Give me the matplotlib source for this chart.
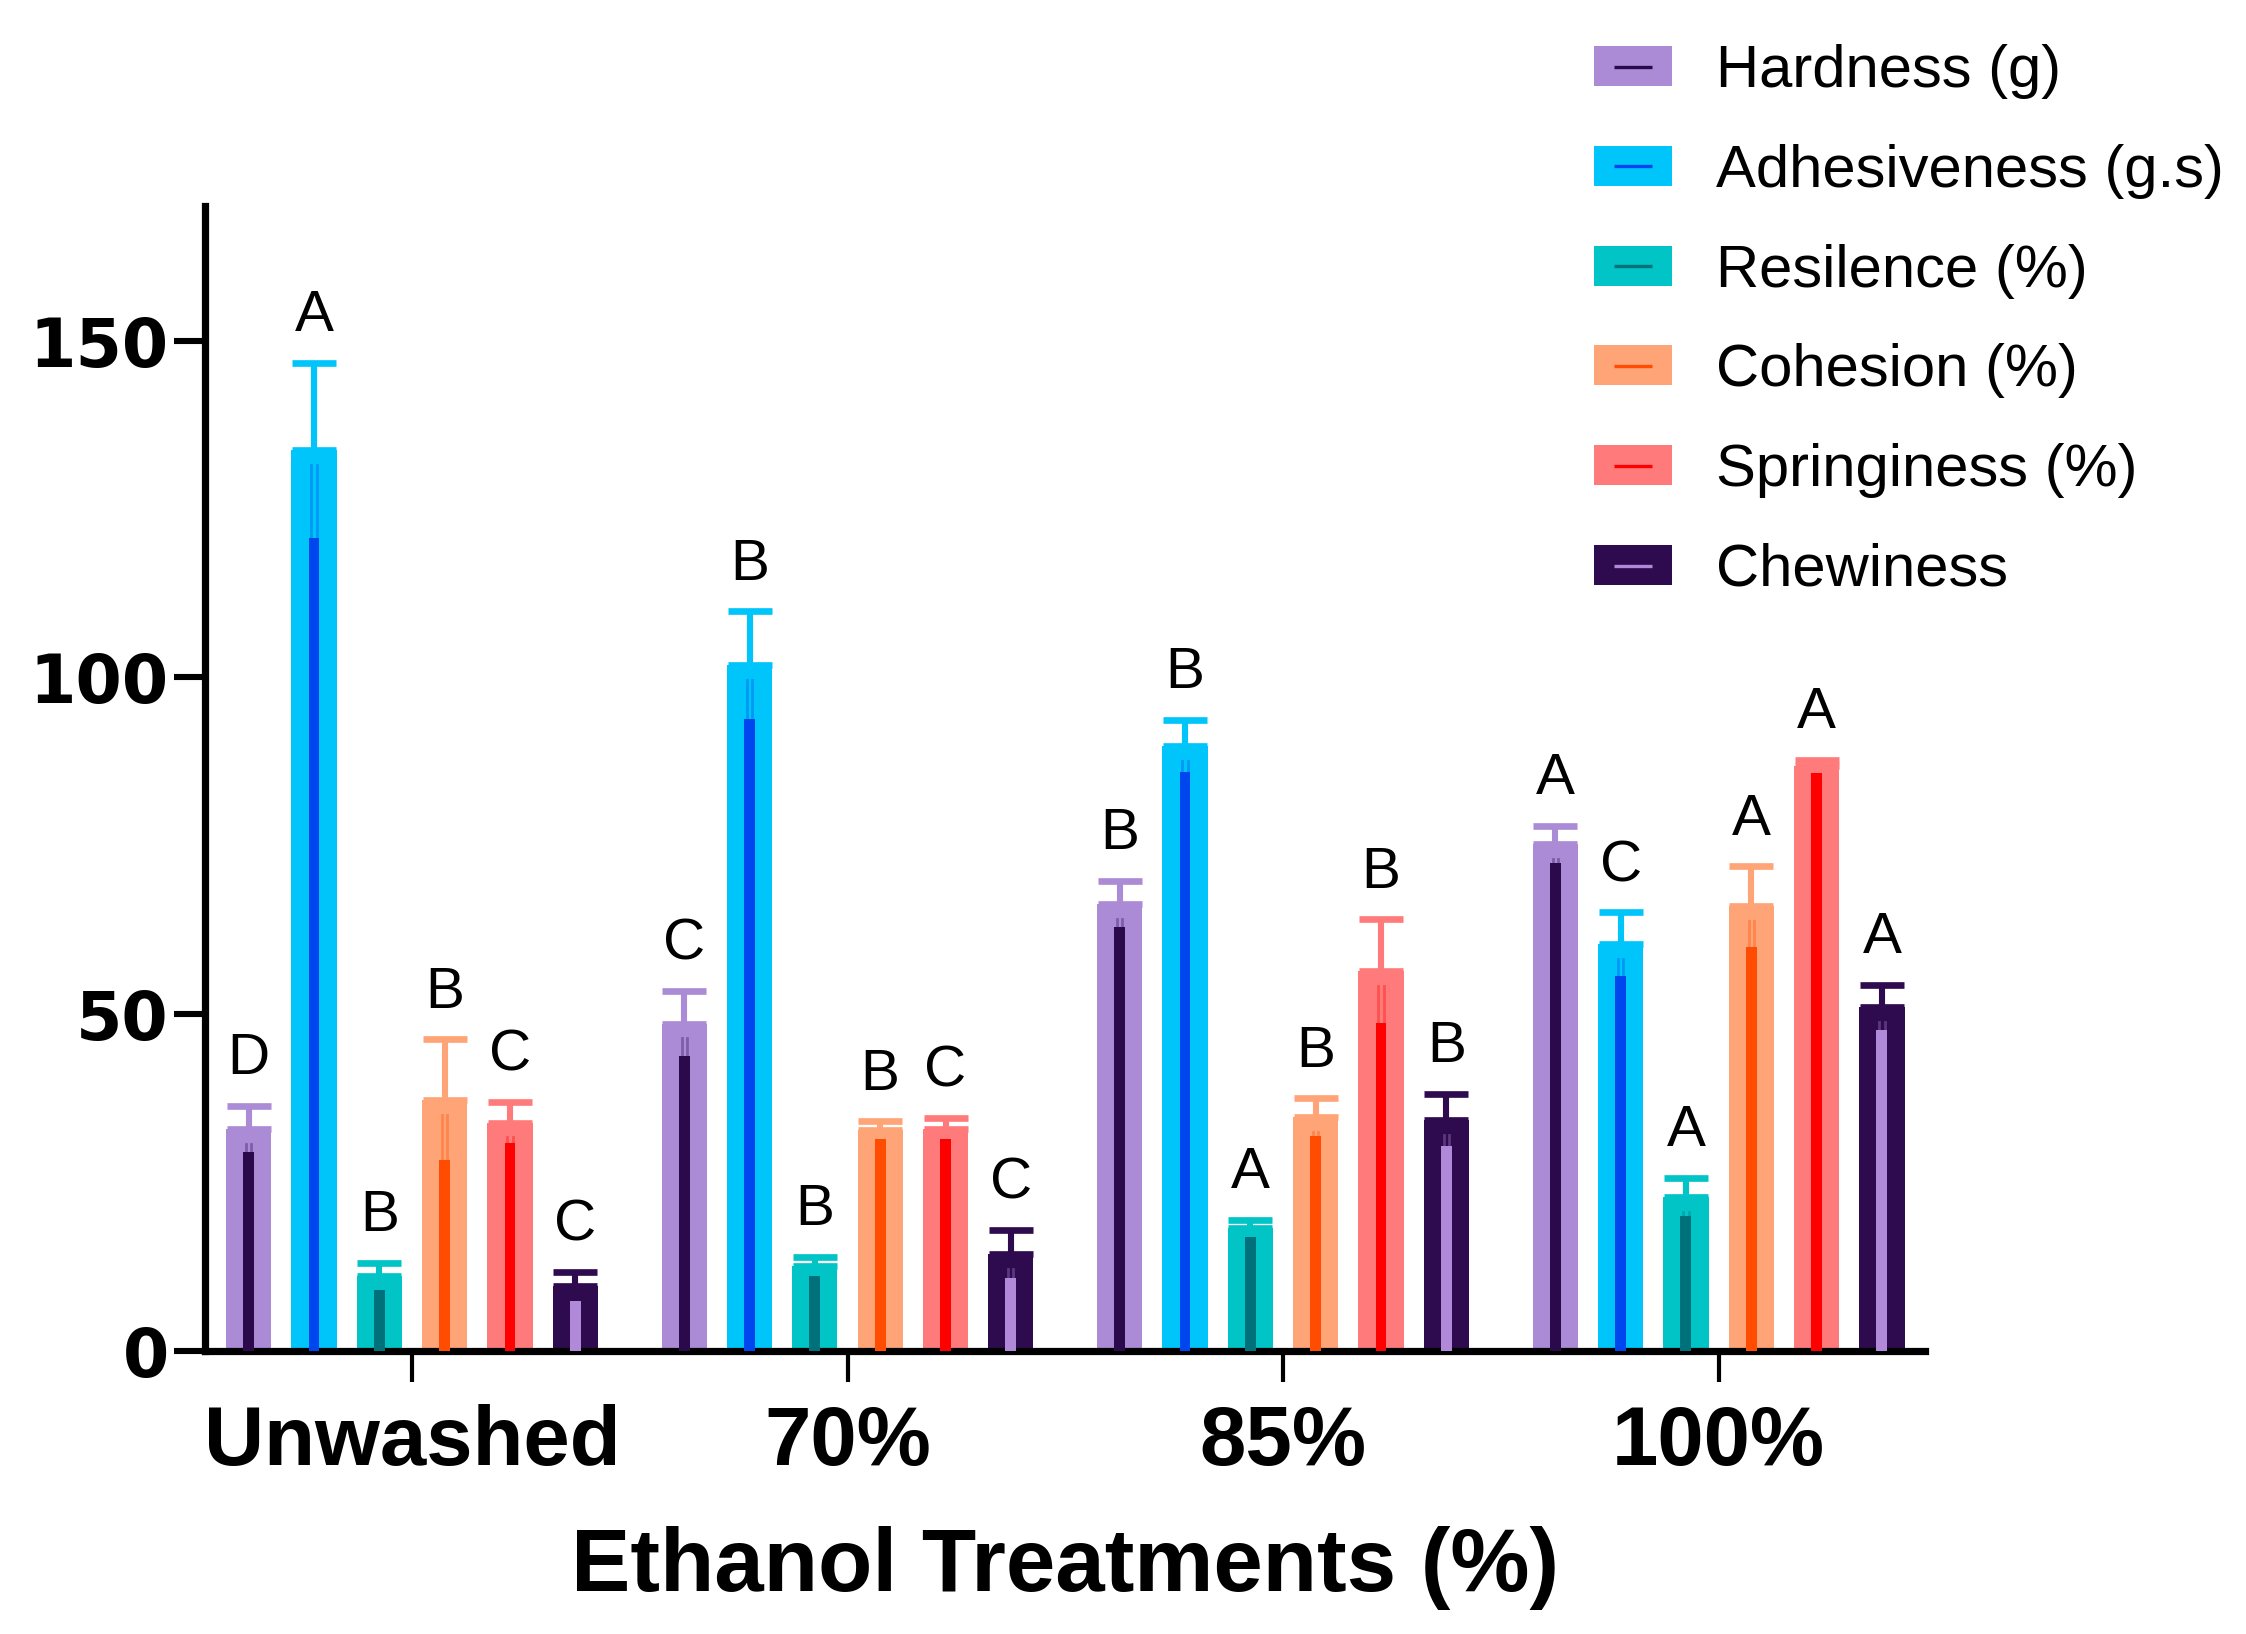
import matplotlib
matplotlib.use("Agg")
import matplotlib.pyplot as plt
import numpy as np
from matplotlib.patches import Patch
from matplotlib.lines import Line2D

plt.rcParams["font.family"] = ["Liberation Sans", "DejaVu Sans"]

groups = ["Unwashed", "70%", "85%", "100%"]
series = ["Hardness (g)", "Adhesiveness (g.s)", "Resilence (%)",
          "Cohesion (%)", "Springiness (%)", "Chewiness"]

hardness = [33.0, 48.6, 66.4, 75.2]
adhesiveness = [133.7, 101.8, 89.8, 60.4]
resilience = [11.1, 12.6, 18.2, 22.9]
cohesion = [37.3, 32.8, 34.7, 66.0]
springiness = [33.9, 33.0, 56.4, 86.8]
chewiness = [9.6, 14.4, 34.3, 51.0]

hardness_err = [3.4, 4.8, 3.4, 2.8]
adhesiveness_err = [13.0, 8.0, 3.9, 4.7]
resilience_err = [2.0, 1.4, 1.3, 2.8]
cohesion_err = [9.0, 1.3, 2.8, 6.0]
springiness_err = [3.0, 1.6, 7.7, 1.0]
chewiness_err = [2.2, 3.6, 3.9, 3.4]

hardness_lbl = ["D", "C", "B", "A"]
adhesiveness_lbl = ["A", "B", "B", "C"]
resilience_lbl = ["B", "B", "A", "A"]
cohesion_lbl = ["B", "B", "B", "A"]
springiness_lbl = ["C", "C", "B", "A"]
chewiness_lbl = ["C", "C", "B", "A"]

values = [hardness, adhesiveness, resilience, cohesion, springiness, chewiness]
errors = [hardness_err, adhesiveness_err, resilience_err, cohesion_err,
          springiness_err, chewiness_err]
letters = [hardness_lbl, adhesiveness_lbl, resilience_lbl, cohesion_lbl,
           springiness_lbl, chewiness_lbl]

bar_colors = ["#ab8bd6", "#00c5fb", "#00c4c6", "#ffa477", "#ff7b7b", "#2d0b4e"]
stripe_colors = ["#2a0a4a", "#0046ee", "#00707a", "#ff4c00", "#ff0000", "#b08ad8"]

fig = plt.figure(figsize=(11.23, 8.17), dpi=200)
ax = fig.add_axes([0.0913, 0.1732, 0.7660, 0.7008])

x = np.arange(len(groups))
step = 0.150
width = 0.104

for i in range(len(series)):
    pos = x + (i - 2.5) * step
    vals = np.array(values[i])
    errs = np.array(errors[i])
    ax.bar(pos, vals, width=width, color=bar_colors[i], zorder=2)
    ax.errorbar(pos, vals, yerr=[np.zeros_like(errs), errs], fmt="none",
                ecolor=bar_colors[i], elinewidth=2.2, capsize=8,
                capthick=2.4, zorder=2.5)
    ax.bar(pos, vals - errs, width=0.025, color=stripe_colors[i], zorder=3)
    # faint double line between the stripe and the bar top
    for px, v, e in zip(pos, vals, errs):
        if e > 2.5:
            for dx in (-0.006, 0.006):
                ax.plot([px + dx, px + dx], [v - e, v - 2.2],
                        color=stripe_colors[i], alpha=0.35, lw=1.0, zorder=3)
    for px, v, e, t in zip(pos, vals, errs, letters[i]):
        ax.annotate(t, (px, v + e), xytext=(0, 7), textcoords="offset points",
                    ha="center", va="bottom", fontsize=21)

ax.set_xlim(-0.475, 3.475)
ax.set_ylim(0, 170)
ax.set_yticks([0, 50, 100, 150])
ax.set_xticks(x)
ax.set_xticklabels(groups)

for s in ["top", "right"]:
    ax.spines[s].set_visible(False)
for s in ["left", "bottom"]:
    ax.spines[s].set_linewidth(2.6)

ax.tick_params(axis="y", length=11, width=2.2, labelsize=24, pad=2)
ax.tick_params(axis="x", length=11, width=1.5, labelsize=30, pad=8)
for lbl in ax.get_yticklabels():
    lbl.set_fontweight("bold")
    lbl.set_family("DejaVu Sans")
for lbl in ax.get_xticklabels():
    lbl.set_fontweight("bold")

ax.set_xlabel("Ethanol Treatments (%)", fontsize=32, fontweight="bold",
              labelpad=16)

handles = []
for i in range(len(series)):
    p = Patch(facecolor=bar_colors[i], edgecolor="none")
    ln = Line2D([], [], color=stripe_colors[i], marker="_", linestyle="None",
                markersize=14, markeredgewidth=1.2)
    handles.append((p, ln))

fig.legend(handles, series, loc="upper left",
           bbox_to_anchor=(1594 / 2246, 1 - 44 / 1634), frameon=False,
           fontsize=21.5, handlelength=1.3, handleheight=0.65,
           handletextpad=0.75, labelspacing=0.75, borderpad=0,
           borderaxespad=0)

fig.savefig("out.png", dpi=200)
